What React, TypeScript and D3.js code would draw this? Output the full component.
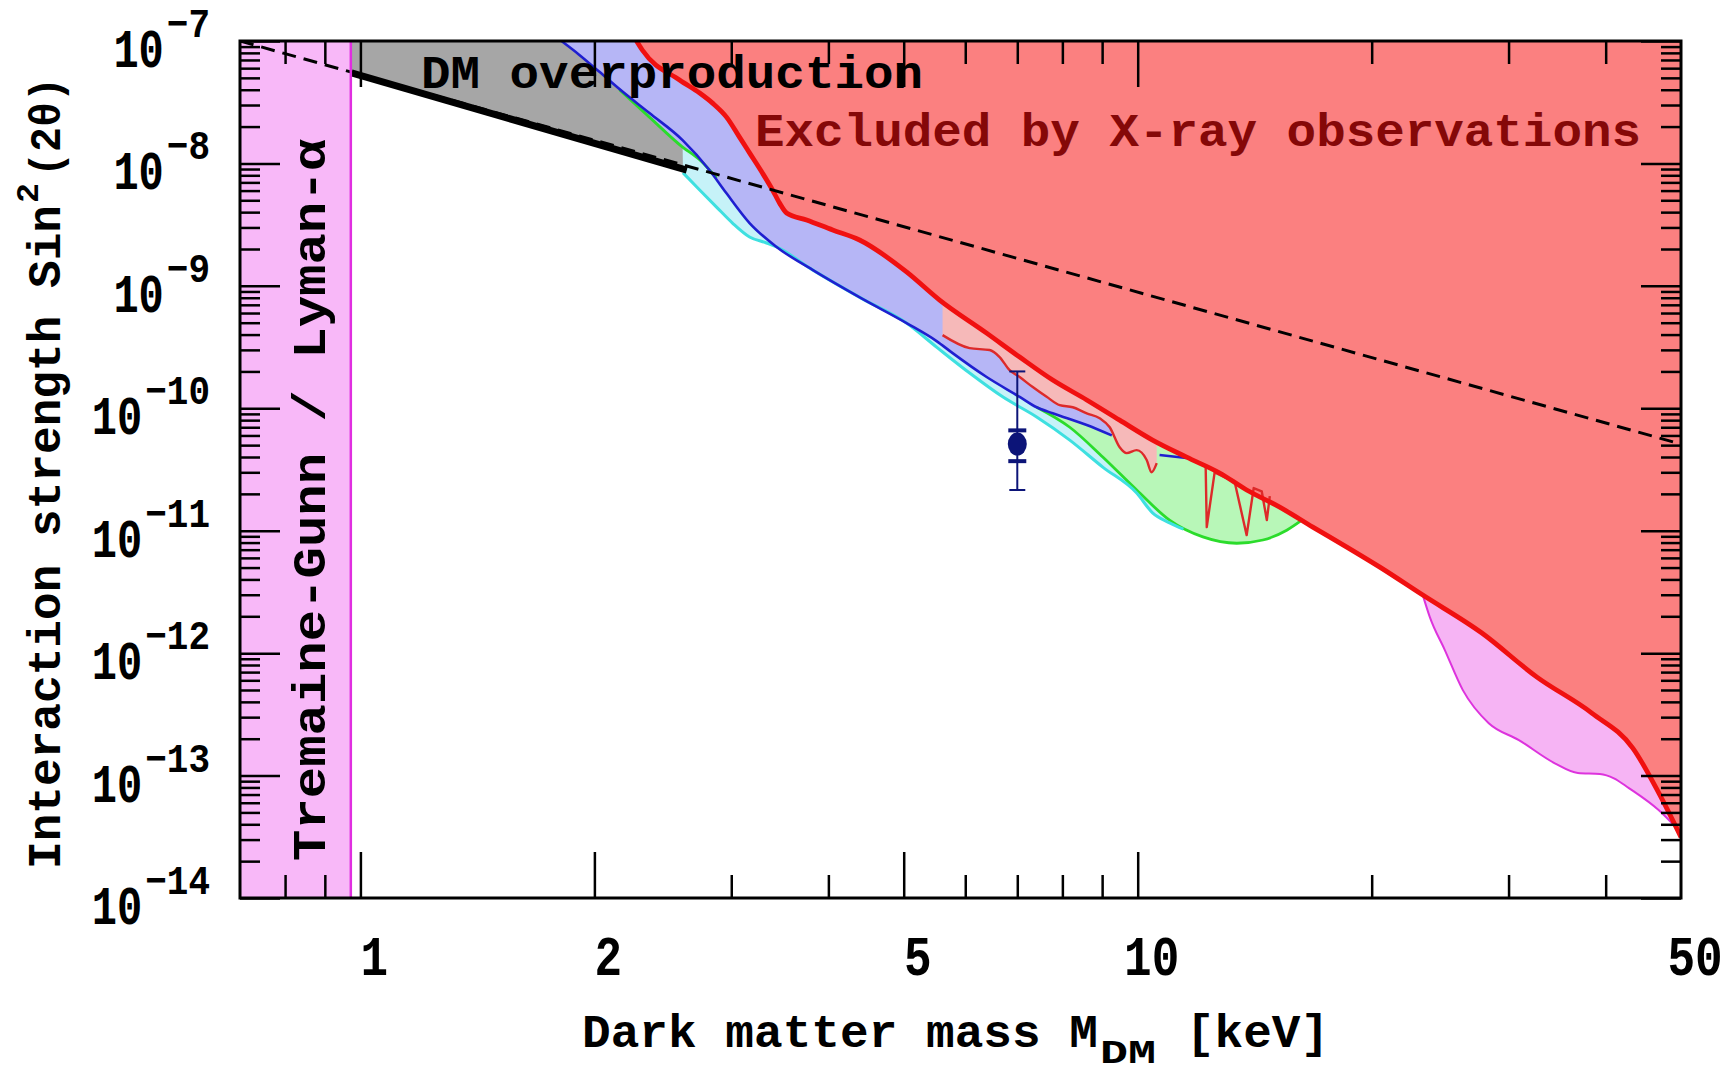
import React, { useEffect, useRef } from 'react';
import * as d3 from 'd3';

type Pt = [number, number];

// axis ticks
const massMajor = [1, 2, 5, 10];
const massMinor = [0.8, 0.9, 3, 4, 6, 7, 8, 9, 20, 30, 40];
const massLabels = [1, 2, 5, 10, 50];
const decades = [-14, -13, -12, -11, -10, -9, -8, -7];

// Tremaine-Gunn / Lyman-alpha lower mass bound [keV]
const tgLimit = 0.972;

// [mass keV, sin^2(2theta)]
const omegaLine: Pt[] = [[0.7, 1.0e-7], [50, 5.1e-11]];
const overproduction: Pt[] = [[0.974, 5.5e-8], [2.63, 8.8e-9]];

const blueLine: Pt[] = [
  [1.814, 1.0e-7], [1.913, 7.7e-8], [2.03, 5.6e-8], [2.154, 4.05e-8], [2.354, 2.58e-8],
  [2.597, 1.55e-8], [2.813, 8.8e-9], [2.958, 5.7e-9], [3.167, 3.26e-9], [3.431, 2.08e-9],
  [3.817, 1.35e-9], [4.413, 7.9e-10], [5.042, 4.97e-10], [5.511, 3.54e-10], [5.78, 2.82e-10],
  [6.392, 1.8e-10], [7.049, 1.24e-10], [7.413, 1.02e-10], [7.774, 9.1e-11], [8.599, 7.3e-11],
  [9.26, 6.0e-11],
];
const blueStub: Pt[] = [[10.67, 4.15e-11], [11.56, 3.92e-11]];

const greenTop: Pt[] = [[2.154, 4.0e-8], [2.354, 2.39e-8], [2.597, 1.36e-8], [2.732, 1.07e-8], [2.872, 7.6e-9]];
const greenLow: Pt[] = [
  [7.413, 1.02e-10], [8.177, 7.0e-11], [9.016, 4.0e-11], [9.97, 2.15e-11], [10.99, 1.22e-11],
  [12.13, 8.9e-12], [13.41, 7.9e-12], [14.49, 8.4e-12], [15.55, 1.01e-11], [16.26, 1.22e-11],
];

const cyanLine: Pt[] = [
  [2.6, 8.4e-9], [2.732, 6.07e-9], [2.872, 4.4e-9], [3.011, 3.26e-9], [3.167, 2.51e-9],
  [3.33, 2.24e-9], [3.431, 2.08e-9], [3.817, 1.35e-9], [4.413, 7.9e-10], [5.042, 4.97e-10],
  [5.511, 3.16e-10], [6.078, 1.94e-10], [6.703, 1.24e-10], [7.413, 8.5e-11], [8.177, 5.5e-11],
  [9.016, 3.31e-11], [9.97, 2.03e-11], [10.45, 1.4e-11], [10.99, 1.16e-11], [11.45, 1.03e-11],
];

const redLine: Pt[] = [
  [2.266, 1.0e-7], [2.306, 8.4e-8], [2.574, 4.8e-8], [2.732, 3.76e-8], [2.838, 3.11e-8],
  [2.958, 2.39e-8], [3.074, 1.64e-8], [3.167, 1.22e-8], [3.29, 8.35e-9], [3.39, 6.07e-9],
  [3.462, 4.74e-9], [3.534, 3.94e-9], [3.75, 3.45e-9], [4.051, 2.86e-9], [4.387, 2.37e-9],
  [5.042, 1.3e-9], [5.561, 7.65e-10], [6.392, 4.11e-10], [7.049, 2.62e-10], [7.774, 1.7e-10],
  [8.599, 1.17e-10], [9.48, 8.0e-11], [10.45, 5.5e-11], [11.56, 3.99e-11], [12.75, 2.96e-11],
  [13.81, 2.15e-11], [15.23, 1.56e-11], [16.8, 1.07e-11], [18.58, 7.35e-12], [20.49, 5.04e-12],
  [23.27, 2.98e-12], [27.72, 1.46e-12], [32.63, 6.37e-13], [38.39, 3.24e-13], [43.37, 1.67e-13],
  [46.83, 7.18e-14], [50, 3.14e-14],
];

const wiggleLine: Pt[] = [
  [5.61, 3.96e-10], [6.078, 3.1e-10], [6.449, 2.99e-10], [6.643, 2.62e-10], [6.843, 2.05e-10],
  [7.049, 1.8e-10], [7.328, 1.49e-10], [7.636, 1.24e-10], [7.937, 1.06e-10], [8.249, 1.02e-10],
  [8.599, 9.1e-11], [8.935, 8.3e-11], [9.205, 7.0e-11], [9.48, 4.8e-11], [9.678, 4.3e-11],
  [9.97, 4.55e-11], [10.27, 3.78e-11], [10.42, 3.0e-11], [10.58, 3.56e-11],
];
const spikeLine: Pt[] = [
  [12.23, 3.37e-11], [12.27, 1.07e-11], [12.56, 3.0e-11], [13.33, 2.49e-11], [13.81, 9.2e-12],
  [14.1, 2.23e-11], [14.44, 2.1e-11], [14.66, 1.22e-11], [14.79, 1.92e-11],
];

const magentaLine: Pt[] = [
  [23.27, 2.98e-12], [23.76, 1.97e-12], [24.84, 1.06e-12], [26.2, 4.99e-13], [28.29, 2.68e-13],
  [30.93, 1.95e-13], [34.41, 1.26e-13], [36.84, 1.05e-13], [39.32, 1.03e-13], [40.99, 9.5e-14],
  [42.85, 7.9e-14], [46.83, 5.2e-14], [49.4, 3.7e-14],
];

// 3.5 keV line point
const signalMass = 7.0;
const signalValue = 5.1e-11;
const signalOuter = [2.15e-11, 2.0e-10];
const signalInner = [3.7e-11, 6.6e-11];

const font = "'Liberation Mono', 'DejaVu Sans Mono', monospace";

function logInterp(arr: Pt[], m: number) {
  for (let i = 0; i < arr.length - 1; i++) {
    const a = arr[i], b = arr[i + 1];
    if (m >= a[0] && m <= b[0]) {
      const t = (Math.log(m) - Math.log(a[0])) / (Math.log(b[0]) - Math.log(a[0]));
      return Math.exp(Math.log(a[1]) + t * (Math.log(b[1]) - Math.log(a[1])));
    }
  }
  return arr[arr.length - 1][1];
}

export default function App() {
  const ref = useRef<SVGSVGElement>(null);

  useEffect(() => {
    const svg = d3.select(ref.current);
    svg.selectAll('*').remove();

    const left = 240, right = 1681, top = 41, bottom = 898;
    const x = d3.scaleLog().domain([0.7, 50]).range([left, right]);
    const y = d3.scaleLog().domain([1e-14, 1e-7]).range([bottom, top]);
    const straight = d3.line<Pt>().x(d => x(d[0])).y(d => y(d[1]));
    const smooth = d3.line<Pt>().x(d => x(d[0])).y(d => y(d[1])).curve(d3.curveMonotoneX);

    // closed outline from several pieces, smooth unless flagged straight
    const outline = (...segs: [Pt[], boolean?][]) =>
      segs.map(([pts, lin], i) => {
        const p = (pts.length < 3 || lin ? straight(pts) : smooth(pts)) || '';
        return i ? p.replace(/^M/, 'L') : p;
      }).join('') + 'Z';

    svg.append('rect').attr('width', 1728).attr('height', 1074).attr('fill', '#fff');

    svg.append('clipPath').attr('id', 'plot-clip')
      .append('rect').attr('x', left).attr('y', top).attr('width', right - left).attr('height', bottom - top);
    const plot = svg.append('g').attr('clip-path', 'url(#plot-clip)');

    const between = (arr: Pt[], lo: number, hi: number) => arr.filter(d => d[0] >= lo && d[0] <= hi);
    const rev = (arr: Pt[]) => arr.slice().reverse();

    // filled regions
    plot.append('rect')
      .attr('x', x(0.7)).attr('y', top)
      .attr('width', x(tgLimit) - x(0.7)).attr('height', bottom - top)
      .attr('fill', '#f8b8f8');

    const fills: [string, string][] = [
      [outline(
        [[[tgLimit, 1e-7], ...overproduction], true],
        [rev(greenTop.filter(d => d[0] < 2.62))],
        [rev(blueLine.filter(d => d[0] <= 2.154))],
      ), '#a6a6a6'],
      [outline([cyanLine], [rev(blueLine.filter(d => d[0] >= 2.597))]), '#c6f2f8'],
      [outline([greenLow], [rev(between(redLine, 7.4, 16.3))]), '#b8f7b8'],
      [outline(
        [blueLine.filter(d => d[0] <= 2.154)], [greenTop],
        [blueLine.filter(d => d[0] > 2.872)],
        [[[9.26, logInterp(redLine, 9.26)], [8.599, logInterp(redLine, 8.599)]], true],
        [rev(redLine.filter(d => d[0] <= 8.6))],
      ), '#b6b6f6'],
      [outline(
        [wiggleLine],
        [[[10.58, logInterp(redLine, 10.58)], ...rev(between(redLine, 5.61, 10.58)), [5.61, logInterp(redLine, 5.61)]]],
      ), '#f6b9b9'],
      [outline([redLine], [[[50, 1e-7]], true]), '#fb8080'],
      [outline([magentaLine], [[[49.4, logInterp(redLine, 49.4)], ...rev(between(redLine, 23.3, 49.4))]]), '#f6b4f4'],
    ];
    fills.forEach(([d, c]) => {
      plot.append('path').attr('d', d).attr('fill', c).attr('stroke', 'none');
    });

    // curves
    const strokes: [Pt[], string, number, boolean][] = [
      [greenTop, '#2bdc2b', 2.8, false],
      [greenLow, '#2bdc2b', 2.8, false],
      [cyanLine, '#3ee0e0', 3, false],
      [blueLine, '#1f1fd0', 2.6, false],
      [blueStub, '#1f1fd0', 2.6, true],
      [wiggleLine, '#dd2a2a', 2.4, false],
      [spikeLine, '#dd2a2a', 2.4, true],
      [magentaLine, '#dd33dd', 2, false],
      [redLine, '#f01010', 4.8, false],
    ];
    strokes.forEach(([pts, c, w, lin]) => {
      plot.append('path').attr('d', (lin ? straight(pts) : smooth(pts)) || '').attr('fill', 'none')
        .attr('stroke', c).attr('stroke-width', w).attr('stroke-linejoin', 'round');
    });

    plot.append('path').attr('d', straight(omegaLine) || '').attr('fill', 'none')
      .attr('stroke', '#000').attr('stroke-width', 3).attr('stroke-dasharray', '14,8');
    plot.append('path').attr('d', straight(overproduction) || '').attr('fill', 'none')
      .attr('stroke', '#000').attr('stroke-width', 7);
    plot.append('line')
      .attr('x1', x(tgLimit)).attr('x2', x(tgLimit)).attr('y1', top).attr('y2', bottom)
      .attr('stroke', '#e02ee0').attr('stroke-width', 2.5);

    // text helper
    const label = (txt: string, tx: number, ty: number, o: {
      size: number; anchor?: string; len?: number; sy?: number; rotate?: number; fill?: string;
    }) => {
      let tr = `translate(${tx},${ty})`;
      if (o.rotate) tr += ` rotate(${o.rotate})`;
      if (o.sy) tr += ` scale(1,${o.sy})`;
      const t = svg.append('text').attr('transform', tr)
        .attr('font-family', font).attr('font-weight', 'bold')
        .attr('font-size', o.size).attr('fill', o.fill || '#000')
        .attr('text-anchor', o.anchor || 'start')
        .text(txt);
      if (o.len) t.attr('textLength', o.len).attr('lengthAdjust', 'spacingAndGlyphs');
      return t;
    };

    label('DM overproduction', 421, 88, { size: 46, len: 502 });
    label('Excluded by X-ray observations', 755, 146, { size: 46, len: 886, fill: '#850808' });
    label('Tremaine-Gunn / Lyman-α', 325, 861, { size: 46, len: 722, rotate: -90 });

    // signal point with error bars
    const ex = x(signalMass);
    const eb = svg.append('g').attr('stroke', '#0c1478').attr('fill', '#0c1478');
    eb.append('line').attr('x1', ex).attr('x2', ex)
      .attr('y1', y(signalOuter[0])).attr('y2', y(signalOuter[1])).attr('stroke-width', 2);
    signalOuter.forEach(v => {
      eb.append('line').attr('x1', ex - 8).attr('x2', ex + 8)
        .attr('y1', y(v)).attr('y2', y(v)).attr('stroke-width', 2);
    });
    signalInner.forEach(v => {
      eb.append('line').attr('x1', ex - 9).attr('x2', ex + 9)
        .attr('y1', y(v)).attr('y2', y(v)).attr('stroke-width', 4);
    });
    eb.append('ellipse').attr('cx', ex).attr('cy', y(signalValue))
      .attr('rx', 9.5).attr('ry', 11.5).attr('stroke', 'none');

    // axes ticks (inward)
    const tickStyle = (g: any) => {
      g.select('.domain').remove();
      g.selectAll('text').remove();
      g.selectAll('line').attr('stroke', '#000').attr('stroke-width', 2.5);
    };
    const yMajor = decades.map(e => Math.pow(10, e));
    const yMinor = decades.slice(0, -1).flatMap(e => [2, 3, 4, 5, 6, 7, 8, 9].map(k => k * Math.pow(10, e)));

    svg.append('g').attr('transform', `translate(0,${bottom})`)
      .call(d3.axisBottom(x).tickValues(massMajor).tickSize(-46)).call(tickStyle);
    svg.append('g').attr('transform', `translate(0,${bottom})`)
      .call(d3.axisBottom(x).tickValues(massMinor).tickSize(-23)).call(tickStyle);
    svg.append('g').attr('transform', `translate(0,${top})`)
      .call(d3.axisTop(x).tickValues(massMajor).tickSize(-46)).call(tickStyle);
    svg.append('g').attr('transform', `translate(0,${top})`)
      .call(d3.axisTop(x).tickValues(massMinor).tickSize(-23)).call(tickStyle);
    svg.append('g').attr('transform', `translate(${left},0)`)
      .call(d3.axisLeft(y).tickValues(yMajor).tickSize(-40)).call(tickStyle);
    svg.append('g').attr('transform', `translate(${left},0)`)
      .call(d3.axisLeft(y).tickValues(yMinor).tickSize(-20)).call(tickStyle);
    svg.append('g').attr('transform', `translate(${right},0)`)
      .call(d3.axisRight(y).tickValues(yMajor).tickSize(-40)).call(tickStyle);
    svg.append('g').attr('transform', `translate(${right},0)`)
      .call(d3.axisRight(y).tickValues(yMinor).tickSize(-20)).call(tickStyle);

    svg.append('rect').attr('x', left).attr('y', top)
      .attr('width', right - left).attr('height', bottom - top)
      .attr('fill', 'none').attr('stroke', '#000').attr('stroke-width', 3);

    // tick labels
    massLabels.forEach(v => {
      label(String(v), x(v) + 14, 975, { size: 46, anchor: 'middle', sy: 1.2 });
    });
    decades.forEach(e => {
      const yy = y(Math.pow(10, e));
      const exp = '\u2212' + String(-e);
      label(exp, 210, yy - 4, { size: 36, anchor: 'end', sy: 1.15 });
      label('10', 210 - exp.length * 0.6 * 36 - 3, yy + 26, { size: 42, anchor: 'end', sy: 1.28 });
    });

    // axis titles
    label('Dark matter mass M', 582, 1047, { size: 46, len: 516 });
    label('DM', 1100, 1063, { size: 34, len: 56 });
    label('[keV]', 1186, 1047, { size: 46, len: 143 });

    label('Interaction strength Sin', 60, 869, { size: 46, len: 664, rotate: -90 });
    label('2', 38, 203, { size: 32, len: 20, rotate: -90 });
    label('(2θ)', 60, 177, { size: 44, len: 100, rotate: -90 });
  }, []);

  return (
    <svg ref={ref} width={1728} height={1074}
      style={{ position: 'absolute', left: 0, top: 0, display: 'block' }} />
  );
}
